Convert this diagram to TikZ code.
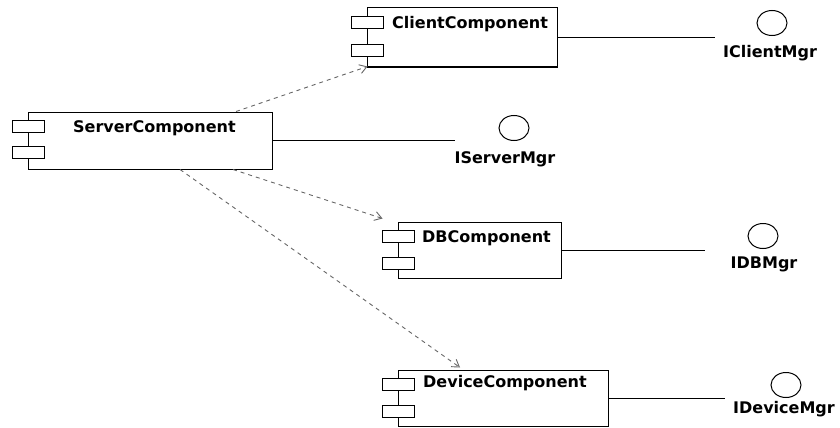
\documentclass[tikz,border=0pt]{standalone}
\usepackage{fontspec}
\setmainfont{DejaVu Sans}
\usetikzlibrary{arrows.meta,shapes.geometric}
\tikzset{
  comp/.style={draw=black, line width=1pt, fill=white, rectangle, inner sep=0pt},
  tab/.style={draw=black, line width=1pt, fill=white, rectangle, inner sep=0pt, minimum width=32pt, minimum height=12pt},
  ctext/.style={anchor=base west, inner sep=0pt, font=\fontsize{16}{19}\selectfont\bfseries},
  itext/.style={anchor=base, inner sep=0pt, font=\fontsize{16}{19}\selectfont\bfseries},
  iface/.style={draw=black, line width=1pt, ellipse, minimum width=30pt, minimum height=25pt, inner sep=0pt},
  conn/.style={draw=black, line width=1pt},
  dep/.style={draw=black!60, line width=0.9pt, dash pattern=on 4pt off 4pt, -{Straight Barb[length=7pt,width=9pt]}}
}
\begin{document}
\begin{tikzpicture}[x=1pt,y=-1pt]
\useasboundingbox (0,0) rectangle (840,428);
% component boxes
\node[comp, minimum width=244pt, minimum height=57pt] (server) at (150,140.5) {};
\node[comp, minimum width=190pt, minimum height=59pt] (client) at (462,37.5) {};
\node[comp, minimum width=163pt, minimum height=56pt] (db) at (479.5,250) {};
\node[comp, minimum width=210pt, minimum height=56pt] (device) at (503,398) {};
% tabs
\node[tab] (st1) at (28.5,126) {};
\node[tab] (st2) at (28.5,152.5) {};
\node[tab] (ct1) at (367,22.5) {};
\node[tab] (ct2) at (367,51) {};
\node[tab] (dt1) at (398,236.5) {};
\node[tab] (dt2) at (398,263) {};
\node[tab] (vt1) at (398,384) {};
\node[tab] (vt2) at (398,411) {};
% component names
\node[ctext] (servert) at (73,132) {ServerComponent};
\node[ctext] (clientt) at (392,28.5) {ClientComponent};
\node[ctext] (dbt) at (422,242) {DBComponent};
\node[ctext] (devicet) at (423,387) {DeviceComponent};
% interfaces
\node[iface] (ic) at (772,23) {};
\node[iface] (is) at (514,128) {};
\node[iface] (idb) at (763,236) {};
\node[iface] (idv) at (786,385) {};
\node[itext] (icl) at (770,57) {IClientMgr};
\node[itext] (isl) at (505,163) {IServerMgr};
\node[itext] (idbl) at (764,268) {IDBMgr};
\node[itext] (idvl) at (784,413) {IDeviceMgr};
% realization lines
\coordinate (cend) at (715,37.5);
\coordinate (send) at (455,140.5);
\coordinate (dbend) at (705,250);
\coordinate (dvend) at (725,398);
\draw[conn] (client.east) -- (cend);
\draw[conn] (server.east) -- (send);
\draw[conn] (db.east) -- (dbend);
\draw[conn] (device.east) -- (dvend);
% dependencies
\draw[dep] ([xshift=86pt]server.north) -- ([xshift=1pt,yshift=1pt]client.south west);
\draw[dep] ([xshift=83pt]server.south) -- ([xshift=-15pt,yshift=3pt]db.north west);
\draw[dep] ([xshift=30pt]server.south) -- ([xshift=-43pt,yshift=2pt]device.north);
\end{tikzpicture}
\end{document}
